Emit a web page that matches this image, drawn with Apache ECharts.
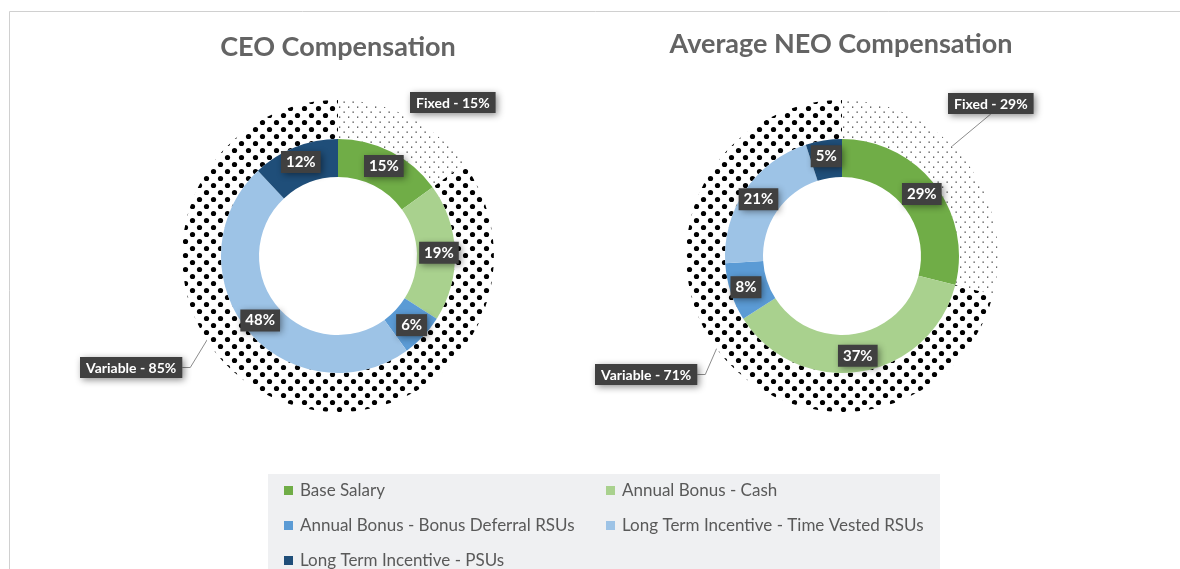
<!DOCTYPE html>
<html>
<head>
<meta charset="utf-8">
<script src="https://cdn.jsdelivr.net/npm/echarts@6/dist/echarts.min.js"></script>
<style>
html,body{margin:0;padding:0;background:#fff;}
#chart{width:1180px;height:569px;}
</style>
</head>
<body>
<div id="chart"></div>
<script>
// ---- data ----
const categories = ['Base Salary', 'Annual Bonus - Cash', 'Annual Bonus - Bonus Deferral RSUs', 'Long Term Incentive - Time Vested RSUs', 'Long Term Incentive - PSUs'];
const ceoValues = [15, 19, 6, 48, 12];
const neoValues = [29, 37, 8, 21, 5];
const mixCategories = ['Fixed', 'Variable'];
const ceoMix = [15, 85];
const neoMix = [29, 71];
const titles = ['CEO Compensation', 'Average NEO Compensation'];

// ---- styles ----
const colors = ['#70ad47', '#a9d18e', '#5b9bd5', '#9dc3e6', '#1f4e79'];
const FONT = 'Lato, "Open Sans", sans-serif';

function bigDots() {
  const c = document.createElement('canvas');
  c.width = 14; c.height = 14;
  const g = c.getContext('2d');
  g.fillStyle = '#fff'; g.fillRect(0, 0, 14, 14);
  g.fillStyle = '#000';
  [[3.5, 3.5], [10.5, 10.5]].forEach(p => { g.beginPath(); g.arc(p[0], p[1], 2.6, 0, Math.PI * 2); g.fill(); });
  return c;
}
function smallDots() {
  const c = document.createElement('canvas');
  c.width = 9; c.height = 10;
  const g = c.getContext('2d');
  g.fillStyle = '#fff'; g.fillRect(0, 0, 9, 10);
  g.fillStyle = '#444';
  g.fillRect(1.5, 1.5, 1.3, 1.3);
  g.fillRect(6, 6.5, 1.3, 1.3);
  return c;
}
const patFixed = { image: smallDots(), repeat: 'repeat' };
const patVar = { image: bigDots(), repeat: 'repeat' };

const boxLabel = {
  backgroundColor: '#404040',
  color: '#fff',
  fontFamily: FONT,
  fontWeight: 'bold',
  fontSize: 15,
  padding: [4, 5, 3, 5],
  shadowBlur: 7,
  shadowColor: 'rgba(0,0,0,0.45)',
  shadowOffsetX: 2,
  shadowOffsetY: 2
};

function innerSeries(center, values) {
  return {
    type: 'pie',
    center: center,
    radius: [79, 117],
    startAngle: 90,
    clockwise: true,
    silent: true,
    avoidLabelOverlap: false,
    label: Object.assign({ show: true, position: 'inside', formatter: '{c}%' }, boxLabel),
    labelLine: { show: false },
    itemStyle: { borderWidth: 0 },
    data: categories.map((n, i) => ({ name: n, value: values[i], itemStyle: { color: colors[i] } }))
  };
}

// pos: label box top-left; line: whether a leader line is drawn
function outerSeries(center, values, pos, line) {
  return {
    type: 'pie',
    center: center,
    radius: [117, 156],
    startAngle: 90,
    clockwise: true,
    silent: true,
    avoidLabelOverlap: false,
    label: Object.assign({ show: true, position: 'outside', formatter: '{b} - {c}%' }, boxLabel, { fontSize: 14, padding: [4, 6, 3, 6] }),
    labelLine: { show: true, length: 10, length2: 6, lineStyle: { color: '#8c8c8c', width: 1 } },
    labelLayout: function (p) {
      const q = pos[p.dataIndex];
      const w = p.labelRect.width, h = p.labelRect.height;
      const cx = q[0] + w / 2, cy = q[1] + h / 2;
      const dx = cx - center[0], dy = cy - center[1];
      const d = Math.sqrt(dx * dx + dy * dy);
      const end = [center[0] + dx / d * 135, center[1] + dy / d * 135];
      let pts;
      if (dx < 0) {
        pts = [[q[0] + w, cy], [q[0] + w + 8, cy], end];
      } else {
        pts = [[cx, q[1] + h], [cx, q[1] + h], end];
      }
      const res = { x: q[0], y: q[1], align: 'left', verticalAlign: 'top' };
      if (line[p.dataIndex]) res.labelLinePoints = pts;
      return res;
    },
    itemStyle: { borderWidth: 0 },
    data: mixCategories.map((n, i) => ({
      name: n, value: values[i],
      itemStyle: { color: i === 0 ? patFixed : patVar },
      labelLine: { show: line[i] }
    }))
  };
}

const chart = echarts.init(document.getElementById('chart'), null, { renderer: 'canvas' });
const legendText = { fontFamily: FONT, fontSize: 17, color: '#595959', padding: [0, 0, 0, 2] };
chart.setOption({
  animation: false,
  backgroundColor: '#fff',
  graphic: [
    { type: 'rect', z: -10, shape: { x: 9.5, y: 11.5, width: 1400, height: 800 }, style: { fill: '#fff', stroke: '#d0d0d0', lineWidth: 1 } },
    { type: 'rect', z: -5, shape: { x: 268, y: 474, width: 672, height: 120 }, style: { fill: '#eff0f2' } },
    { type: 'text', x: 338, y: 47, style: { text: titles[0], textAlign: 'center', textVerticalAlign: 'middle', font: 'bold 27px ' + FONT, fill: '#646464' } },
    { type: 'text', x: 841, y: 44, style: { text: titles[1], textAlign: 'center', textVerticalAlign: 'middle', font: 'bold 27px ' + FONT, fill: '#646464' } }
  ],
  legend: [
    { orient: 'vertical', left: 284, top: 482, height: 200, padding: 0, itemWidth: 9, itemHeight: 9, itemGap: 18, icon: 'rect', selectedMode: false, textStyle: legendText,
      data: [categories[0], categories[2], categories[4]] },
    { orient: 'vertical', left: 606, top: 482, height: 200, padding: 0, itemWidth: 9, itemHeight: 9, itemGap: 18, icon: 'rect', selectedMode: false, textStyle: legendText,
      data: [categories[1], categories[3]] }
  ],
  series: [
    outerSeries([338, 256], ceoMix, [[410, 92], [80, 357]], [false, true]),
    innerSeries([338, 256], ceoValues),
    outerSeries([842, 256], neoMix, [[948, 93], [595, 364]], [true, true]),
    innerSeries([842, 256], neoValues)
  ]
});
</script>
</body>
</html>
